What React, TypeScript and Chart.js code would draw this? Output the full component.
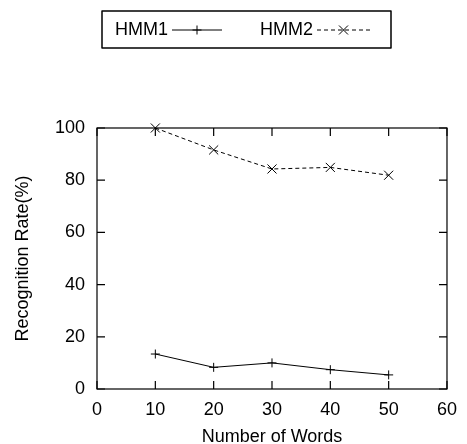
import React, { useEffect, useRef } from 'react';
import { Chart, registerables } from 'chart.js';

Chart.register(...registerables);

// ---- data ----
const wordCounts = [10, 20, 30, 40, 50];
const hmm1Rates = [13.4, 8.3, 10.0, 7.4, 5.4];
const hmm2Rates = [100, 91.6, 84.3, 84.9, 81.9];
const seriesLabels = ['HMM1', 'HMM2'];
const xTitle = 'Number of Words';
const yTitle = 'Recognition Rate(%)';
const xRange = [0, 60];
const yRange = [0, 100];

const FONT = '"Liberation Sans", Arial, Helvetica, sans-serif';
const INK = '#000';
const FONT_SIZE = 18;

function drawMarker(ctx: CanvasRenderingContext2D, kind: string, cx: number, cy: number) {
  ctx.beginPath();
  if (kind === 'cross') {
    const r = 4.5;
    ctx.moveTo(cx - r, cy);
    ctx.lineTo(cx + r, cy);
    ctx.moveTo(cx, cy - r);
    ctx.lineTo(cx, cy + r);
  } else {
    const r = 4.5;
    ctx.moveTo(cx - r, cy - r);
    ctx.lineTo(cx + r, cy + r);
    ctx.moveTo(cx - r, cy + r);
    ctx.lineTo(cx + r, cy - r);
  }
  ctx.setLineDash([]);
  ctx.stroke();
}

const framePlugin = {
  id: 'gnuplotFrame',
  afterDraw(chart: any) {
    const { ctx, chartArea } = chart;
    const { left, right, top, bottom } = chartArea;
    const xs = chart.scales.x;
    const ys = chart.scales.y;
    ctx.save();
    ctx.strokeStyle = INK;
    ctx.lineWidth = 1.2;
    ctx.setLineDash([]);
    ctx.strokeRect(left, top, right - left, bottom - top);
    const tl = 8;
    ctx.beginPath();
    xs.ticks.forEach((t: any) => {
      const px = xs.getPixelForValue(t.value);
      ctx.moveTo(px, bottom);
      ctx.lineTo(px, bottom - tl);
      ctx.moveTo(px, top);
      ctx.lineTo(px, top + tl);
    });
    ys.ticks.forEach((t: any) => {
      const py = ys.getPixelForValue(t.value);
      ctx.moveTo(left, py);
      ctx.lineTo(left + tl, py);
      ctx.moveTo(right, py);
      ctx.lineTo(right - tl, py);
    });
    ctx.stroke();

    // legend (gnuplot style: text, then sample)
    ctx.lineWidth = 1.5;
    ctx.lineJoin = 'round';
    ctx.strokeRect(102, 11, 289, 37);
    ctx.font = `${FONT_SIZE}px ${FONT}`;
    ctx.fillStyle = INK;
    ctx.textAlign = 'right';
    ctx.textBaseline = 'middle';
    const ly = 30;
    const entries = [
      { label: seriesLabels[0], textRight: 168, s0: 172, s1: 222, dash: [] as number[], marker: 'cross' },
      { label: seriesLabels[1], textRight: 313, s0: 317, s1: 370, dash: [4, 3], marker: 'crossRot' },
    ];
    ctx.lineWidth = 1;
    entries.forEach((e) => {
      ctx.fillText(e.label, e.textRight, ly);
      ctx.beginPath();
      ctx.setLineDash(e.dash);
      ctx.moveTo(e.s0, ly);
      ctx.lineTo(e.s1, ly);
      ctx.stroke();
      drawMarker(ctx, e.marker, (e.s0 + e.s1) / 2, ly);
    });
    ctx.restore();
  },
};

export default function App() {
  const canvasRef = useRef<HTMLCanvasElement | null>(null);

  useEffect(() => {
    document.body.style.margin = '0';
    const canvas = canvasRef.current;
    if (!canvas) return;
    const chart = new Chart(canvas, {
      type: 'line',
      data: {
        datasets: [
          {
            label: seriesLabels[0],
            data: wordCounts.map((w, i) => ({ x: w, y: hmm1Rates[i] })),
            borderColor: INK,
            backgroundColor: INK,
            borderWidth: 1,
            pointStyle: 'cross',
            pointRadius: 4.5,
            pointBorderWidth: 1,
            pointBorderColor: INK,
            tension: 0,
            clip: false as any,
          },
          {
            label: seriesLabels[1],
            data: wordCounts.map((w, i) => ({ x: w, y: hmm2Rates[i] })),
            borderColor: INK,
            backgroundColor: INK,
            borderWidth: 1,
            borderDash: [4, 3],
            pointStyle: 'crossRot',
            pointRadius: 6.4,
            pointBorderWidth: 1,
            pointBorderColor: INK,
            tension: 0,
            clip: false as any,
          },
        ],
      },
      options: {
        responsive: false,
        animation: false,
        devicePixelRatio: 1,
        layout: { padding: { left: 0, right: 13, top: 128, bottom: 0 } },
        plugins: { legend: { display: false }, tooltip: { enabled: false } },
        scales: {
          x: {
            type: 'linear',
            min: xRange[0],
            max: xRange[1],
            grid: { display: false, drawTicks: false },
            border: { display: false },
            ticks: {
              stepSize: 10,
              color: INK,
              padding: 10,
              maxRotation: 0,
              font: { family: FONT, size: FONT_SIZE },
            },
            title: {
              display: true,
              text: xTitle,
              color: INK,
              font: { family: FONT, size: FONT_SIZE, lineHeight: 0.8 },
              padding: { top: 0, bottom: 0 },
            },
            afterFit: (s: any) => {
              s.height = 55;
            },
          },
          y: {
            type: 'linear',
            min: yRange[0],
            max: yRange[1],
            grid: { display: false, drawTicks: false },
            border: { display: false },
            ticks: {
              stepSize: 20,
              color: INK,
              padding: 12,
              font: { family: FONT, size: FONT_SIZE },
            },
            title: {
              display: true,
              text: yTitle,
              color: INK,
              font: { family: FONT, size: FONT_SIZE, lineHeight: 1.2 },
              padding: { top: 12, bottom: 0 },
            },
            afterFit: (s: any) => {
              s.width = 97;
            },
          },
        },
      },
      plugins: [framePlugin],
    });
    return () => chart.destroy();
  }, []);

  return (
    <div style={{ position: 'fixed', left: 0, top: 0, width: 467, height: 444 }}>
      <canvas ref={canvasRef} width={467} height={444} />
    </div>
  );
}
